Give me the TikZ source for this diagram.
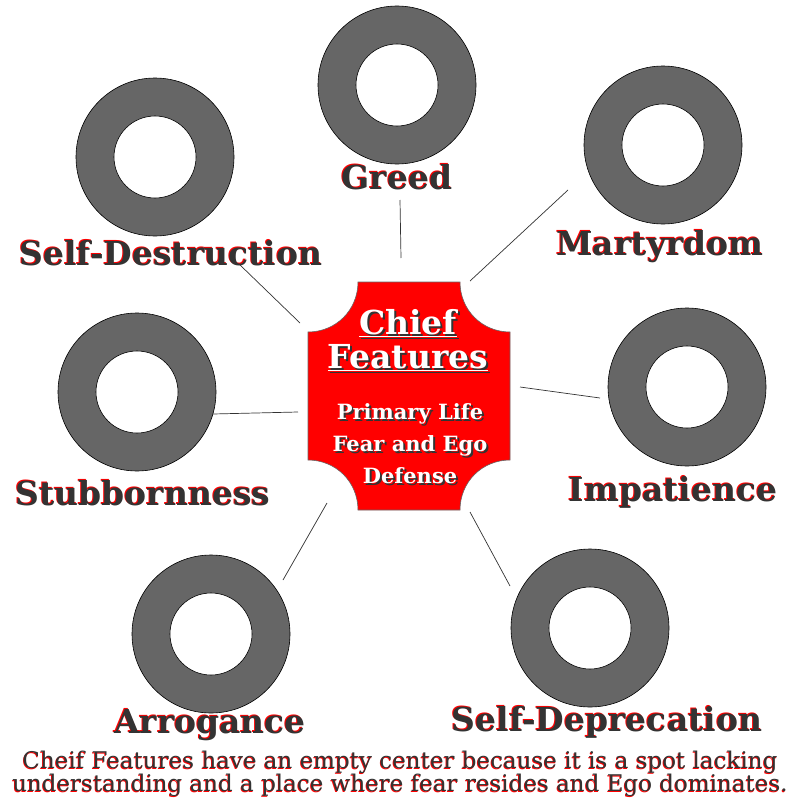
\documentclass[tikz,border=0pt]{standalone}
\usepackage{fontspec}
\setmainfont{DejaVu Serif}
\begin{document}
\begin{tikzpicture}[x=1pt,y=-1pt,
  ring/.style={fill=ringgray,draw=black,line width=0.6pt},
  hole/.style={fill=white,draw=black,line width=0.6pt},
  link/.style={draw=black!80,line width=0.7pt}]
\definecolor{ringgray}{HTML}{666666}
\definecolor{lblgray}{HTML}{333333}
\definecolor{plaque}{HTML}{FF0000}
\useasboundingbox (0,0) rectangle (800,800);
\newcommand{\lbl}[3]{%
  \node[text=red,font=\bfseries\fontsize{#3}{#3}\selectfont] at ([xshift=-1pt,yshift=1pt]#1) {#2};
  \node[text=lblgray,font=\bfseries\fontsize{#3}{#3}\selectfont] at (#1) {#2};}
\newcommand{\wtx}[4]{%
  \node[text=black!80,font=\bfseries\fontsize{#3}{#4}\selectfont,align=center] at ([xshift=2pt,yshift=-2pt]#1) {#2};
  \node[text=white,font=\bfseries\fontsize{#3}{#4}\selectfont,align=center] at (#1) {#2};}
% rings
\foreach \n/\x/\y in {greed/397/85, mart/663/145, selfd/155/157, stub/137/392, imp/687/387, arr/211/634, dep/590/628}{
  \fill[ring] (\x,\y) circle (79);
  \fill[hole] (\x,\y) circle (41);
  \coordinate (\n) at (\x,\y);
}
% plaque
\draw[fill=plaque,draw=black!60,line width=0.6pt]
 (358,282) -- (460,282) .. controls (460,310) and (482,332) .. (510,332)
 -- (510,460) .. controls (482,460) and (460,482) .. (460,510)
 -- (358,510) .. controls (358,482) and (336,460) .. (308,460)
 -- (308,332) .. controls (336,332) and (358,310) .. (358,282) -- cycle;
\coordinate (plaque) at (409,396);
% links
\coordinate (g1) at (400,200); \coordinate (g2) at (401,258);
\coordinate (m1) at (568,190); \coordinate (m2) at (470,281);
\coordinate (s1) at (238,263); \coordinate (s2) at (300,323);
\coordinate (t1) at (213,414); \coordinate (t2) at (298,412);
\coordinate (i1) at (600,398); \coordinate (i2) at (520,387);
\coordinate (a1) at (283,580); \coordinate (a2) at (327,503);
\coordinate (d1) at (510,586); \coordinate (d2) at (470,512);
\foreach \a/\b in {g1/g2,m1/m2,s1/s2,t1/t2,i1/i2,a1/a2,d1/d2} \draw[link] (\a) -- (\b);
% labels
\lbl{397,177}{Greed}{33}
\lbl{660,247}{Martyrdom}{33}
\lbl{171,253}{Self-Destruction}{33}
\lbl{143,493}{Stubbornness}{33}
\lbl{673,492}{Impatience}{33}
\lbl{210,725}{Arrogance}{33}
\lbl{607,722}{Self-Deprecation}{33}
% center text
\wtx{408,323}{\underline{Chief}}{33}{33}
\wtx{408,358}{\underline{Features}}{33}{33}
\wtx{410,444}{Primary Life\\Fear and Ego\\Defense}{21}{32}
% footer
\node[text=red,font=\fontsize{23}{23}\selectfont,align=center] at (399.3,774.7) {Cheif Features have an empty center because it is a spot lacking\\understanding and a place where fear resides and Ego dominates.};
\node[text=lblgray,font=\fontsize{23}{23}\selectfont,align=center] (foot) at (400,774) {Cheif Features have an empty center because it is a spot lacking\\understanding and a place where fear resides and Ego dominates.};
\end{tikzpicture}
\end{document}
